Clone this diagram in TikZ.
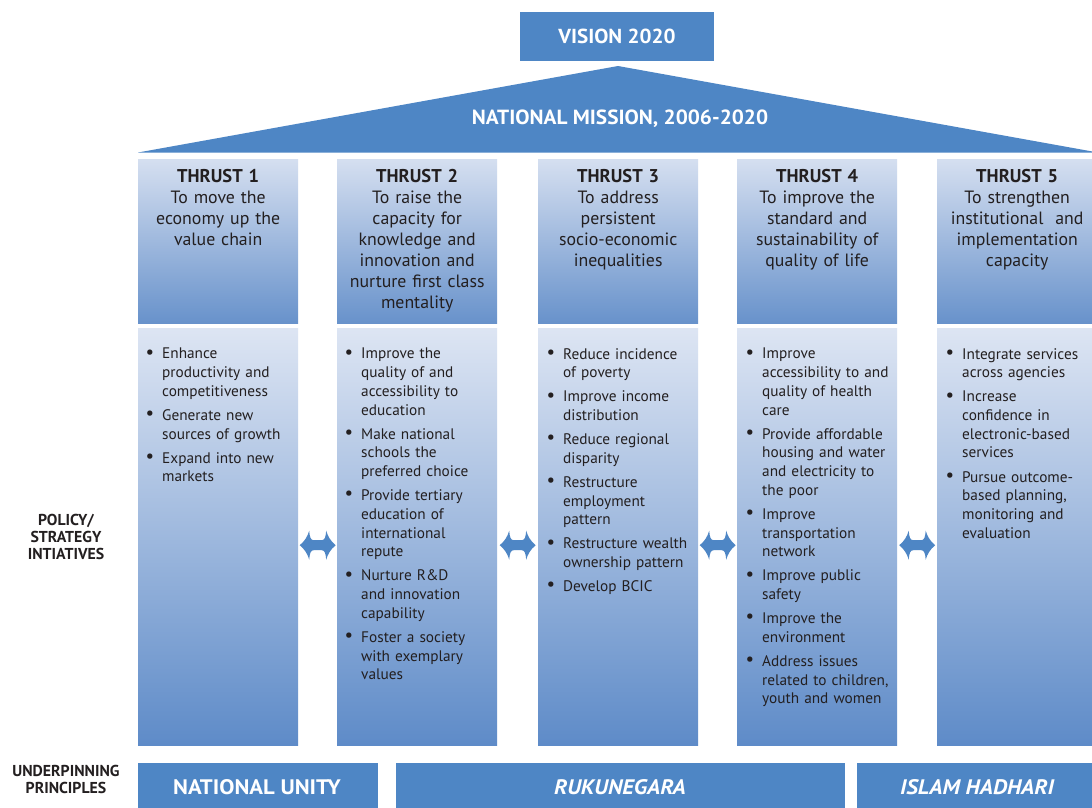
\documentclass[tikz,border=0pt]{standalone}
\usepackage{fontspec}
\setmainfont{PT Sans}
\newfontfamily\headb[FakeStretch=1.04]{PT Sans}
\newfontfamily\wideb[FakeStretch=1.08]{PT Sans}
\usetikzlibrary{calc}
\definecolor{mblue}{RGB}{78,134,197}
\definecolor{hdrtop}{RGB}{213,223,240}
\definecolor{hdrbot}{RGB}{104,146,203}
\definecolor{bodytop}{RGB}{221,229,243}
\definecolor{bodybot}{RGB}{94,139,200}
\definecolor{ink}{RGB}{35,31,32}
\newcommand\nl{\hfil\break}
\newcommand\bfirst[1]{\noindent\hangindent=13pt\hangafter=0\llap{\raisebox{0.8pt}{\fontsize{19}{19}\selectfont\textbullet}\hspace{8pt}}#1\par}
\newcommand\bnext[1]{\vspace{5.4pt}\bfirst{#1}}
\tikzset{
  hdrbox/.style={anchor=north west, inner sep=0pt, minimum width=160pt, minimum height=164pt, top color=hdrtop, bottom color=hdrbot},
  bodybox/.style={anchor=north west, inner sep=0pt, minimum width=160pt, minimum height=417pt, top color=bodytop, bottom color=bodybot},
  hdrtext/.style={anchor=north, inner sep=0pt, text width=160pt, align=center, text=ink, font=\fontsize{17.8}{20.9}\selectfont},
  bodytext/.style={anchor=north west, inner sep=0pt, text width=150pt, align=left, text=ink, font=\fontsize{15.3}{18.7}\selectfont},
  bluebox/.style={fill=mblue, inner sep=0pt, text=white},
  sidelabel/.style={inner sep=0pt, align=center, text=ink, font=\bfseries\fontsize{15.8}{17}\selectfont},
  dblarrow/.pic={
    \fill[mblue] (-18,0) .. controls (-13,-4) and (-10,-9) .. (-8.5,-14.5)
      .. controls (-8,-8) and (-7,-5) .. (-4,-5) -- (4,-5)
      .. controls (7,-5) and (8,-8) .. (8.5,-14.5)
      .. controls (10,-9) and (13,-4) .. (18,0)
      .. controls (13,4) and (10,9) .. (8.5,14.5)
      .. controls (8,8) and (7,5) .. (4,5) -- (-4,5)
      .. controls (-7,5) and (-8,8) .. (-8.5,14.5)
      .. controls (-10,9) and (-13,4) .. (-18,0) -- cycle;
  }
}
\begin{document}
\begin{tikzpicture}[x=1pt,y=-1pt]
\useasboundingbox[fill=white] (0,0) rectangle (1092,807);

% Vision and mission
\node[bluebox, minimum width=194pt, minimum height=49pt, font=\headb\bfseries\fontsize{20.3}{24}\selectfont] (vision) at (617,36.5) {VISION 2020};
\fill[mblue] (138,152.5) -- (618,66) -- (1098,152.5) -- cycle;
\node[inner sep=0pt, text=white, font=\headb\bfseries\fontsize{20.5}{24}\selectfont] (mission) at (620,119) {NATIONAL MISSION, 2006-2020};

% Thrust headers
\node[hdrbox] (h1) at (138,159) {};
\node[hdrbox] (h2) at (337,159) {};
\node[hdrbox] (h3) at (538,159) {};
\node[hdrbox] (h4) at (737,159) {};
\node[hdrbox] (h5) at (937,159) {};

\node[hdrtext] (h1t) at ($(h1.north)+(0,10.5)$) {{\bfseries\fontsize{18.5}{20.9}\selectfont THRUST 1}\\To move the\\economy up the\\value chain};
\node[hdrtext] (h2t) at ($(h2.north)+(0,10.5)$) {{\bfseries\fontsize{18.5}{20.9}\selectfont THRUST 2}\\To raise the\\capacity for\\knowledge and\\innovation and\\nurture first class\\mentality};
\node[hdrtext] (h3t) at ($(h3.north)+(0,10.5)$) {{\bfseries\fontsize{18.5}{20.9}\selectfont THRUST 3}\\To address\\persistent\\socio-economic\\inequalities};
\node[hdrtext] (h4t) at ($(h4.north)+(0,10.5)$) {{\bfseries\fontsize{18.5}{20.9}\selectfont THRUST 4}\\To improve the\\standard and\\sustainability of\\quality of life};
\node[hdrtext] (h5t) at ($(h5.north)+(0,10.5)$) {{\bfseries\fontsize{18.5}{20.9}\selectfont THRUST 5}\\To strengthen\\institutional~ and\\implementation\\capacity};

% Body boxes
\node[bodybox] (b1) at (138,328) {};
\node[bodybox] (b2) at (337,328) {};
\node[bodybox] (b3) at (538,328) {};
\node[bodybox] (b4) at (737,328) {};
\node[bodybox] (b5) at (937,328) {};

\node[bodytext] (b1t) at ($(b1.north west)+(11,20)$) {%
\bfirst{Enhance\nl productivity and\nl competitiveness}
\bnext{Generate new\nl sources of growth}
\bnext{Expand into new\nl markets}};
\node[bodytext] (b2t) at ($(b2.north west)+(11,20)$) {%
\bfirst{Improve the\nl quality of and\nl accessibility to\nl education}
\bnext{Make national\nl schools the\nl preferred choice}
\bnext{Provide tertiary\nl education of\nl international\nl repute}
\bnext{Nurture R\&D\nl and innovation\nl capability}
\bnext{Foster a society\nl with exemplary\nl values}};
\node[bodytext] (b3t) at ($(b3.north west)+(12,20)$) {%
\bfirst{Reduce incidence\nl of poverty}
\bnext{Improve income\nl distribution}
\bnext{Reduce regional\nl disparity}
\bnext{Restructure\nl employment\nl pattern}
\bnext{Restructure wealth\nl ownership pattern}
\bnext{Develop BCIC}};
\node[bodytext] (b4t) at ($(b4.north west)+(12,20)$) {%
\bfirst{Improve\nl accessibility to and\nl quality of health\nl care}
\bnext{Provide affordable\nl housing and water\nl and electricity to\nl the poor}
\bnext{Improve\nl transportation\nl network}
\bnext{Improve public\nl safety}
\bnext{Improve the\nl environment}
\bnext{Address issues\nl related to children,\nl youth and women}};
\node[bodytext] (b5t) at ($(b5.north west)+(12,20)$) {%
\bfirst{Integrate services\nl across agencies}
\bnext{Increase\nl confidence in\nl electronic-based\nl services}
\bnext{Pursue outcome-\nl based planning,\nl monitoring and\nl evaluation}};

% Double arrows between columns
\pic at ($(b1.east)!0.5!(b2.west)+(0,8.5)$) {dblarrow};
\pic at ($(b2.east)!0.5!(b3.west)+(0,8.5)$) {dblarrow};
\pic at ($(b3.east)!0.5!(b4.west)+(0,8.5)$) {dblarrow};
\pic at ($(b4.east)!0.5!(b5.west)+(0,8.5)$) {dblarrow};

% Side labels
\node[sidelabel] (policy) at (66,537) {POLICY/\\STRATEGY\\INTIATIVES};
\node[sidelabel] (under) at (66,779) {UNDERPINNING\\PRINCIPLES};

% Principles
\node[bluebox, anchor=north west, minimum width=240pt, minimum height=50pt] (p1) at (138,763) {};
\node[bluebox, anchor=north west, minimum width=449pt, minimum height=50pt] (p2) at (396,763) {};
\node[bluebox, anchor=north west, minimum width=240pt, minimum height=50pt] (p3) at (857,763) {};
\node[inner sep=0pt, text=white, font=\wideb\bfseries\fontsize{21}{24}\selectfont] (p1t) at (257,787) {NATIONAL UNITY};
\node[inner sep=0pt, text=white, font=\wideb\bfseries\itshape\fontsize{21}{24}\selectfont] (p2t) at (620,787) {RUKUNEGARA};
\node[inner sep=0pt, text=white, font=\wideb\bfseries\itshape\fontsize{21}{24}\selectfont] (p3t) at (977,787) {ISLAM HADHARI};
\end{tikzpicture}
\end{document}
